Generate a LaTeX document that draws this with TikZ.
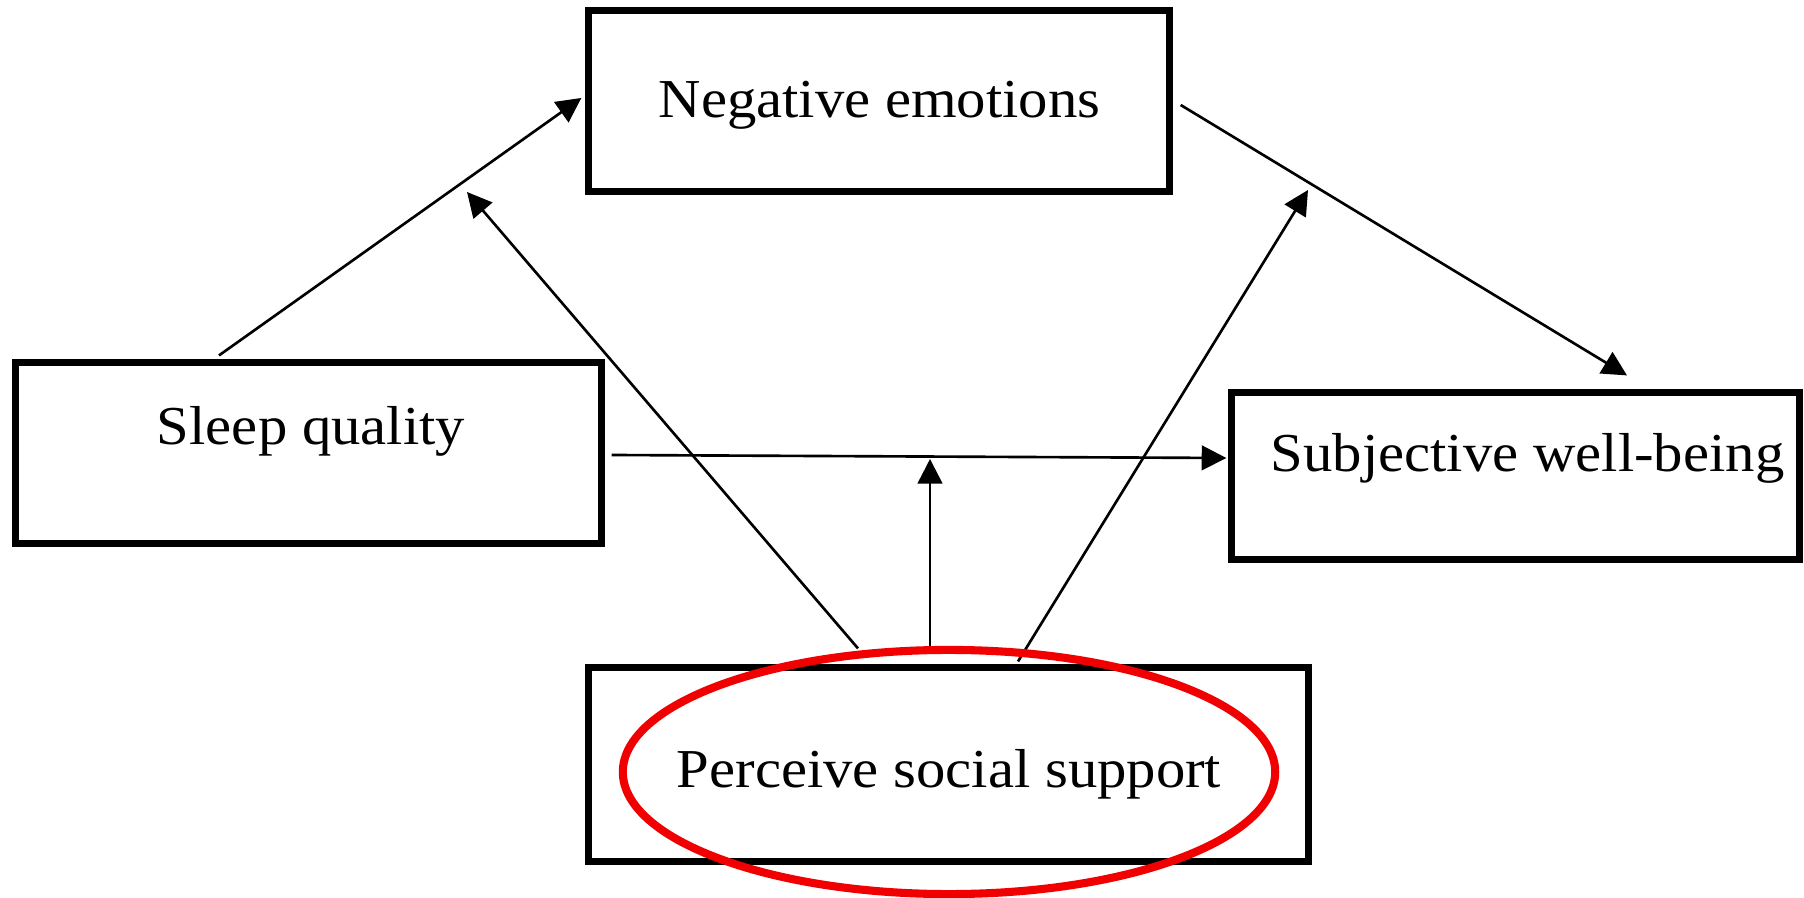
\documentclass[tikz,border=0pt]{standalone}
\usepackage{fontspec}
\setmainfont{Liberation Serif}
\usepackage{graphicx}
\usetikzlibrary{arrows.meta,calc}
\definecolor{ringred}{RGB}{240,0,0}
\tikzset{
  box/.style={draw=black, line width=2pt, rectangle, inner sep=0pt},
  lbl/.style={anchor=base, inner sep=0pt, font=\fontsize{15.6}{18}\selectfont},
  arr/.style={draw=black, line width=0.75pt, -{Triangle[length=7pt,width=7pt]}},
  ring/.style={draw=ringred, line width=2.3pt}
}
\newcommand{\wide}[1]{\scalebox{1.07}[1]{#1}}
\begin{document}
\begin{tikzpicture}[x=0.01cm,y=-0.01cm]
\useasboundingbox (0,0) rectangle (1804,898);
% boxes
\node[box, minimum width=5.80cm, minimum height=1.80cm] (ne)  at (879,101) {};
\node[box, minimum width=5.85cm, minimum height=1.80cm] (sq)  at (308.5,453) {};
\node[box, minimum width=5.67cm, minimum height=1.66cm] (swb) at (1515.5,476) {};
\node[box, minimum width=7.19cm, minimum height=1.93cm] (pss) at (948.5,764.5) {};
% labels
\node[lbl] (tne)  at (879.5,118) {\wide{Negative emotions}};
\node[lbl] (tsq)  at (311,445) {\wide{Sleep quality}};
\node[lbl] (tswb) at (1527.5,472) {\wide{Subjective well-being}};
\node[lbl] (tpss) at (949,787) {\wide{Perceive social support}};
% moderation targets on paths
\coordinate (m1) at (467,192);
\coordinate (m2) at (930,459);
\coordinate (m3) at (1308,190);
% main paths
\draw[arr] ([shift={(-89.5,-4)}]sq.north) -- ([shift={(-4,-3)}]ne.west);
\draw[arr] ([shift={(8,4)}]ne.east) -- ([shift={(111.5,-14)}]swb.north);
\draw[arr] ([shift={(7,2)}]sq.east) -- ([shift={(-2,-18)}]swb.west);
% moderation arrows
\draw[arr] ([shift={(-90.5,-16)}]pss.north) -- (m1);
\draw[arr] ([shift={(-18.5,-10)}]pss.north) -- (m2);
\draw[arr] ([shift={(69.5,-3)}]pss.north) -- (m3);
% red ring
\draw[ring] (949,772) ellipse [x radius=3.26cm, y radius=1.22cm];
\end{tikzpicture}
\end{document}
